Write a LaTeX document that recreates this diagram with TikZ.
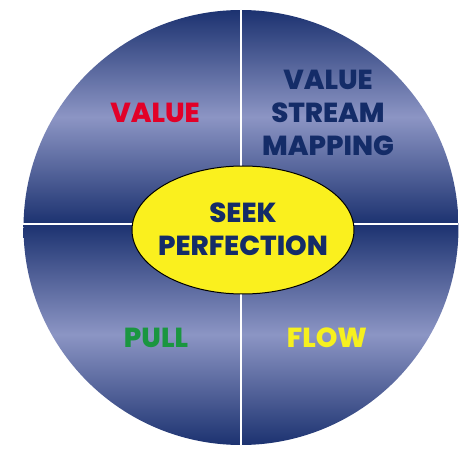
\documentclass[tikz,border=0pt]{standalone}
\usepackage{fontspec}
\setmainfont{Poppins}[BoldFont={Poppins ExtraBold}]
\usetikzlibrary{positioning, shapes.geometric}
\definecolor{navy}{RGB}{28,50,112}
\definecolor{haze}{RGB}{140,149,196}
\definecolor{inknavy}{RGB}{20,44,104}
\definecolor{valred}{RGB}{226,0,40}
\definecolor{pullgreen}{RGB}{26,150,64}
\definecolor{flowyellow}{RGB}{246,240,30}
\definecolor{hubyellow}{RGB}{250,240,30}
\tikzset{%
	word/.style={font=\bfseries\fontsize{27.5}{33}\selectfont, align=center, inner sep=0mm},
	hub/.style={draw, ellipse, minimum width=222pt, minimum height=128pt,%
		inner sep=0mm, fill=hubyellow, line width=1pt},
	divider/.style={white, line width=1.2pt},
	band/.style={top color=navy, bottom color=navy, middle color=haze}
}
\begin{document}
\begin{tikzpicture}[x=1pt, y=1pt]
	\useasboundingbox (-241,-229) rectangle (234,224);
	\coordinate (c) at (0,-3.5);

	\begin{scope}
		\clip (c) circle (217.5);
		\shade[band] (-220,0) rectangle (220,214);
		\shade[band] (-220,-221) rectangle (220,0);
	\end{scope}

	\coordinate (top)  at (0,214);
	\coordinate (bot)  at (0,-221);
	\coordinate (west) at (-217.5,0);
	\coordinate (east) at (217.5,0);
	\draw[divider] (top)  -- (bot);
	\draw[divider] (west) -- (east);

	\node[hub] (seek) at (2,-6) {};
	\node[word, text=inknavy] (perfection) at (2,-5.5) {SEEK\\PERFECTION};

	\node[word, text=valred]     (value)  at (-86,111) {VALUE};
	\node[word, text=inknavy]    (vsm)    at (87,111)  {VALUE\\STREAM\\MAPPING};
	\node[word, text=pullgreen]  (pull)   at (-85,-114) {PULL};
	\node[word, text=flowyellow] (flow)   at (86,-114)  {FLOW};

\end{tikzpicture}
\end{document}
